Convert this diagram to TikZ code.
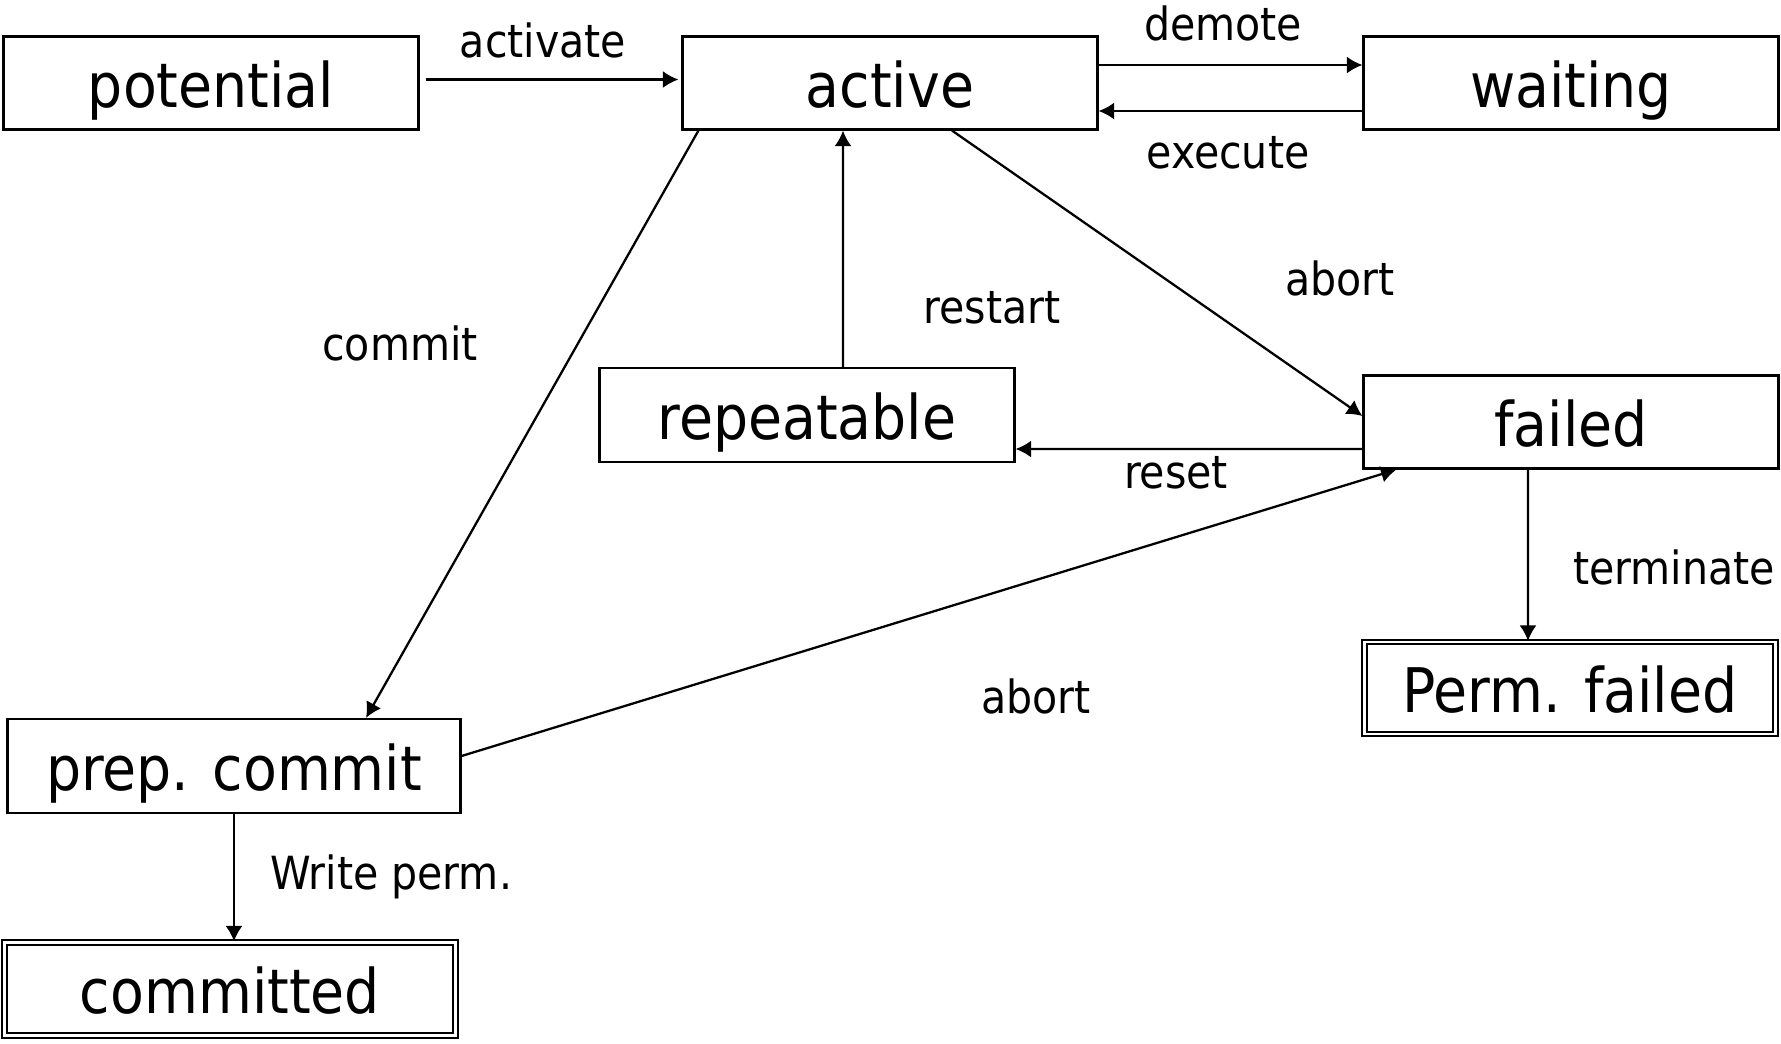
\documentclass[tikz,border=0pt]{standalone}
\usepackage{fontspec}
\setmainfont{DejaVu Sans Condensed}
\usetikzlibrary{arrows.meta}

\begin{document}
\begin{tikzpicture}[x=0.1mm,y=-0.1mm,
  state/.style={draw,line width=0.6pt,minimum width=41.5mm,minimum height=9.3mm,
    inner sep=0pt,font=\fontsize{17.5}{21}\selectfont,text height=14.7pt,text depth=0.7pt},
  final/.style={state,double,double distance=0.7pt},
  trans/.style={-{Latex[length=4.4pt,width=4.8pt]},line width=0.65pt},
  lbl/.style={inner sep=0pt,font=\fontsize{13}{15}\selectfont,text height=9.4pt,text depth=0pt}]
\useasboundingbox (0,0) rectangle (1781,1043);
% States
\node[state] (potential) at (211,83) {potential};
\node[state] (active) at (890,83) {active};
\node[state] (waiting) at (1571,83) {waiting};
\node[state,minimum height=9.4mm] (repeatable) at (807,415) {repeatable};
\node[state] (failed) at (1571,422) {failed};
\node[final,minimum width=41.1mm,minimum height=9.2mm] (permfailed) at (1570,688) {Perm. failed};
\node[state,minimum width=45.3mm,minimum height=9.4mm] (prep) at (234,766) {prep. commit};
\node[final,minimum width=45.1mm,minimum height=9.3mm] (committed) at (230,989) {committed};
% Transitions
\draw[trans,shorten <=0.6mm,shorten >=0.3mm] ([yshift=0.35mm]potential.east) -- ([yshift=0.35mm]active.west);
\draw[trans] ([yshift=1.8mm]active.east) -- ([yshift=1.8mm]waiting.west);
\draw[trans] ([yshift=-2.8mm]waiting.west) -- ([yshift=-2.8mm]active.east);
\draw[trans] ([xshift=6.2mm]active.south) -- ([yshift=0.6mm]failed.west);
\draw[trans] ([xshift=1.7mm]active.south west) -- ([xshift=13.2mm]prep.north);
\draw[trans] ([xshift=3.6mm]repeatable.north) -- ([xshift=-4.7mm]active.south);
\draw[trans] ([yshift=-2.7mm]failed.west) -- ([yshift=-3.4mm]repeatable.east);
\draw[trans] ([yshift=1mm]prep.east) -- ([xshift=3.4mm]failed.south west);
\draw[trans] ([xshift=-4.3mm]failed.south) -- ([xshift=-4.2mm]permfailed.north);
\draw[trans] (prep.south) -- (prep.south |- committed.north);
% Labels
\node[lbl] (l-activate) at (543,41) {activate};
\node[lbl] (l-demote) at (1223,24) {demote};
\node[lbl] (l-execute) at (1228,152) {execute};
\node[lbl] (l-abort1) at (1340,279) {abort};
\node[lbl] (l-commit) at (400,344) {commit};
\node[lbl] (l-restart) at (992,307) {restart};
\node[lbl] (l-reset) at (1176,472) {reset};
\node[lbl] (l-abort2) at (1036,697) {abort};
\node[lbl] (l-terminate) at (1674,568) {terminate};
\node[lbl] (l-write) at (391,873) {Write perm.};
\end{tikzpicture}
\end{document}
